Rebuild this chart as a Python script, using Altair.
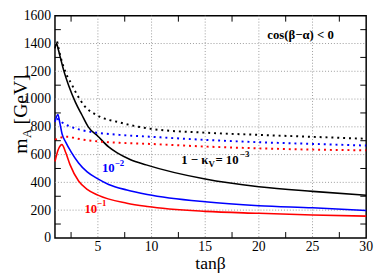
import altair as alt
import pandas as pd

# ---- data ----
tb_black = [1.0, 1.15, 1.3, 1.5, 1.8, 2.3, 2.9, 3.5, 4.1, 5.0, 6.0, 6.8, 8.0, 9.5, 15, 20, 25, 30]
m_black = [1365, 1400, 1360, 1300, 1210, 1092, 978, 887, 800, 732, 655, 612, 565, 526, 424, 369, 335, 307]

tb_blue = [1.0, 1.27, 1.45, 1.65, 2.0, 2.5, 3.2, 4.0, 5.0, 6.0, 7.7, 9.6, 15, 20, 25, 30]
m_blue = [835, 889, 830, 752, 690, 620, 540, 475, 425, 385, 345, 313, 260, 232, 217, 198]

tb_red = [1.0, 1.3, 1.65, 2.0, 2.4, 3.2, 4.0, 5.0, 7.7, 9.6, 15, 20, 25, 30]
m_red = [550, 635, 672, 615, 528, 410, 350, 308, 250, 226, 191, 177, 165, 157]

tb_black_dot = [1.2, 1.5, 2.0, 2.6, 3.0, 3.7, 5.0, 7.0, 10, 15, 20, 25, 30]
m_black_dot = [1415, 1310, 1190, 1100, 1040, 955, 880, 832, 785, 758, 742, 728, 714]

tb_blue_dot = [1.2, 1.6, 2.5, 3.5, 5.0, 7.0, 9.8, 15, 20, 25, 30]
m_blue_dot = [860, 835, 800, 776, 757, 742, 729, 706, 689, 677, 665]

tb_red_dot = [1.0, 1.5, 2.2, 3.0, 5.0, 7.0, 9.8, 15, 20, 25, 30]
m_red_dot = [706, 722, 729, 716, 695, 685, 677, 658, 645, 636, 631]

x_labels = [5, 10, 15, 20, 25, 30]
y_labels = [0, 200, 400, 600, 800, 1000, 1200, 1400, 1600]
x_grid = [5, 10, 15, 20, 25]
y_grid = [200, 400, 600, 800, 1000, 1200, 1400]
x_minor = [2.5, 7.5, 12.5, 17.5, 22.5, 27.5]
y_minor = [100, 300, 500, 700, 900, 1100, 1300, 1500]

series_names = ["black", "blue", "red"]
series_colors = ["#000000", "#0000ff", "#ff0000"]


def long(parts):
    rows = []
    for name, xs, ys in parts:
        for x, y in zip(xs, ys):
            rows.append({"tanb": x, "mA": y, "series": name})
    return pd.DataFrame(rows)


solid_df = long([("black", tb_black, m_black), ("blue", tb_blue, m_blue), ("red", tb_red, m_red)])
dotted_df = long([("black", tb_black_dot, m_black_dot), ("blue", tb_blue_dot, m_blue_dot),
                  ("red", tb_red_dot, m_red_dot)])

W, H = 318, 227
TOP = 5
SERIF = "Liberation Serif"
GRID = "#9a9a9a"

xscale = alt.Scale(domain=[1, 30], nice=False, zero=False)
yscale = alt.Scale(domain=[0, 1600], nice=False)
cscale = alt.Scale(domain=series_names, range=series_colors)


def X(field="tanb"):
    return alt.X(f"{field}:Q", scale=xscale, axis=None)


def Y(field="mA"):
    return alt.Y(f"{field}:Q", scale=yscale, axis=None)


# grid
gx = alt.Chart(pd.DataFrame({"tanb": x_grid})).mark_rule(color=GRID, strokeWidth=1, strokeDash=[1, 2]).encode(
    x=X(), y=alt.value(0), y2=alt.value(H))
gy = alt.Chart(pd.DataFrame({"mA": y_grid})).mark_rule(color=GRID, strokeWidth=1, strokeDash=[1, 2]).encode(
    y=Y(), x=alt.value(0), x2=alt.value(W))

solid = alt.Chart(solid_df).mark_line(strokeWidth=1.6, interpolate="monotone").encode(
    x=X(), y=Y(), color=alt.Color("series:N", scale=cscale, legend=None),
)

dotted = alt.Chart(dotted_df).mark_line(strokeWidth=2, strokeDash=[2, 4], interpolate="monotone").encode(
    x=X(), y=Y(), color=alt.Color("series:N", scale=cscale, legend=None),
)

xt = pd.DataFrame({"tanb": x_minor})
yt = pd.DataFrame({"mA": y_minor})
TL = 6
tick_bottom = alt.Chart(xt).mark_rule(color="black", strokeWidth=1).encode(
    x=X(), y=alt.value(H), y2=alt.value(H - TL))
tick_top = alt.Chart(xt).mark_rule(color="black", strokeWidth=1).encode(
    x=X(), y=alt.value(0), y2=alt.value(TL))
tick_left = alt.Chart(yt).mark_rule(color="black", strokeWidth=1).encode(
    y=Y(), x=alt.value(0), x2=alt.value(TL))
tick_right = alt.Chart(yt).mark_rule(color="black", strokeWidth=1).encode(
    y=Y(), x=alt.value(W), x2=alt.value(W - TL))

# tick labels
xlab = alt.Chart(pd.DataFrame({"tanb": x_labels})).mark_text(
    font=SERIF, fontSize=14, color="black", align="center", baseline="alphabetic"
).encode(x=X(), y=alt.value(253 - 8 - TOP), text=alt.Text("tanb:Q", format="d"))
ylab = alt.Chart(pd.DataFrame({"mA": y_labels})).mark_text(
    font=SERIF, fontSize=14, color="black", align="right", baseline="alphabetic", dy=4.5
).encode(y=Y(), x=alt.value(-4), text=alt.Text("mA:Q", format="d"))

one = alt.Data(values=[{}])


def txt(s, x, y, color="black", size=13, dx=0, dy=0, weight="bold"):
    return alt.Chart(one).mark_text(
        text=s, font=SERIF, fontSize=size, fontWeight=weight, color=color,
        align="left", baseline="alphabetic", dx=dx, dy=dy,
    ).encode(x=alt.datum(x), y=alt.datum(y))


# annotations (anchor in data coordinates)
ann = [
    txt("cos(β−α) < 0", 20.79, 1436),
    txt("1 − κ", 12.76, 535),
    txt("V", 12.76, 535, size=9, dx=28, dy=3),
    txt("= 10", 12.76, 535, dx=35),
    txt("−3", 12.76, 535, size=9, dx=60, dy=-7),
    txt("10", 5.38, 472, color="#0000ff"),
    txt("−2", 5.38, 472, color="#0000ff", size=9, dx=13, dy=-7),
    txt("10", 3.74, 181, color="#ff0000"),
    txt("−1", 3.74, 181, color="#ff0000", size=9, dx=13, dy=-7),
]


def ptext(s, xpage, ypage, size, angle=0, align="left"):
    return alt.Chart(one).mark_text(
        text=s, font=SERIF, fontSize=size, angle=angle, align=align, baseline="alphabetic", color="black"
    ).encode(x=alt.value(xpage - 56), y=alt.value(ypage - 8 - TOP))


titles = [
    ptext("m", 27, 154, 20, 270),
    ptext("A", 31, 138, 13, 270),
    ptext("[GeV]", 27, 124, 20, 270),
    ptext("tanβ", 215, 271.5, 18, 0, "center"),
]

chart = alt.layer(
    gx, gy, solid, dotted, tick_bottom, tick_top, tick_left, tick_right, xlab, ylab, *ann, *titles
).properties(
    width=W, height=H,
    autosize=alt.AutoSizeParams(type="none"),
    padding={"left": 48, "top": TOP, "right": 8, "bottom": 36},
    background="white",
).configure_view(
    stroke="black", strokeWidth=1.5
)

chart.save("out.html", embed_options={"renderer": "svg", "actions": False})
